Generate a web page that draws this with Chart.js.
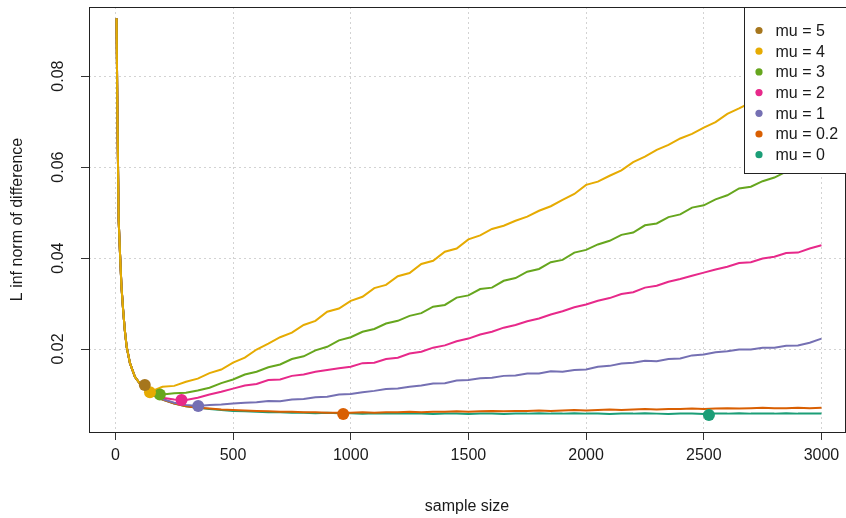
<!DOCTYPE html>
<html>
<head>
<meta charset="utf-8">
<script src="https://cdn.jsdelivr.net/npm/chart.js@4"></script>
<style>
  html, body { margin: 0; padding: 0; background: #fff; }
  #wrap { width: 846px; height: 518px; }
</style>
</head>
<body>
<div id="wrap"><canvas id="errChart" width="846" height="518"></canvas></div>
<script>
// tick positions
const xTicks = [0, 500, 1000, 1500, 2000, 2500, 3000];
const yTicks = [0.02, 0.04, 0.06, 0.08];

// legend order (top to bottom)
const muLabels = ['mu = 5', 'mu = 4', 'mu = 3', 'mu = 2', 'mu = 1', 'mu = 0.2', 'mu = 0'];
const muColors = ['#A6761D', '#E6AB02', '#66A61E', '#E7298A', '#7570B3', '#D95F02', '#1B9E77'];

// steep start, shared by all curves
const earlyN = [5, 9, 14, 20, 26, 33, 40, 48, 62, 83, 104, 118];
const earlyErr = [0.0927, 0.0703, 0.0484, 0.0407, 0.0337, 0.0286, 0.0242, 0.0205, 0.0169, 0.0139, 0.0124, 0.0118];

// rest of the sample sizes
const lateN = [150, 200, 250, 300, 350, 400, 450, 500,
  550, 600, 650, 700, 750, 800, 850, 900, 950, 1000,
  1050, 1100, 1150, 1200, 1250, 1300, 1350, 1400, 1450, 1500,
  1550, 1600, 1650, 1700, 1750, 1800, 1850, 1900, 1950, 2000,
  2050, 2100, 2150, 2200, 2250, 2300, 2350, 2400, 2450, 2500,
  2550, 2600, 2650, 2700, 2750, 2800, 2850, 2900, 2950, 3000];

const errMu5 = [0.0121];
const errMu5N = [125];
const errMu4 = [0.0106, 0.0117, 0.0119, 0.0128, 0.0135, 0.0147, 0.0155, 0.0170,
  0.0181, 0.0199, 0.0212, 0.0226, 0.0236, 0.0253, 0.0262, 0.0282, 0.0289, 0.0306,
  0.0315, 0.0334, 0.0341, 0.0360, 0.0367, 0.0387, 0.0394, 0.0414, 0.0421, 0.0441,
  0.0450, 0.0464, 0.0471, 0.0482, 0.0491, 0.0504, 0.0514, 0.0528, 0.0541, 0.0561,
  0.0568, 0.0581, 0.0593, 0.0611, 0.0623, 0.0638, 0.0649, 0.0663, 0.0673, 0.0687,
  0.0699, 0.0717, 0.0729, 0.0742, 0.0751, 0.0766, 0.0777, 0.0791, 0.0801, 0.0814];
const errMu3 = [0.0103, 0.0100, 0.0103, 0.0104, 0.0109, 0.0115, 0.0125, 0.0133,
  0.0144, 0.0150, 0.0160, 0.0166, 0.0178, 0.0184, 0.0197, 0.0205, 0.0219, 0.0226,
  0.0238, 0.0244, 0.0256, 0.0262, 0.0273, 0.0279, 0.0293, 0.0297, 0.0313, 0.0318,
  0.0332, 0.0335, 0.0350, 0.0356, 0.0370, 0.0376, 0.0391, 0.0396, 0.0412, 0.0418,
  0.0430, 0.0438, 0.0451, 0.0456, 0.0472, 0.0476, 0.0490, 0.0496, 0.0511, 0.0516,
  0.0529, 0.0538, 0.0553, 0.0557, 0.0569, 0.0577, 0.0590, 0.0592, 0.0605, 0.0611];
const errMu2 = [0.0103, 0.0093, 0.0089, 0.0088, 0.0093, 0.0100, 0.0106, 0.0113,
  0.0120, 0.0123, 0.0132, 0.0133, 0.0141, 0.0144, 0.0150, 0.0154, 0.0158, 0.0161,
  0.0169, 0.0170, 0.0178, 0.0181, 0.0190, 0.0194, 0.0203, 0.0208, 0.0217, 0.0223,
  0.0232, 0.0238, 0.0247, 0.0253, 0.0261, 0.0267, 0.0276, 0.0283, 0.0292, 0.0298,
  0.0306, 0.0312, 0.0321, 0.0325, 0.0335, 0.0339, 0.0348, 0.0354, 0.0361, 0.0368,
  0.0375, 0.0381, 0.0389, 0.0391, 0.0399, 0.0403, 0.0411, 0.0412, 0.0421, 0.0428];
const errMu1 = [0.0103, 0.0090, 0.0082, 0.0077, 0.0075, 0.0077, 0.0078, 0.0080,
  0.0082, 0.0083, 0.0086, 0.0085, 0.0089, 0.0090, 0.0094, 0.0095, 0.0100, 0.0101,
  0.0105, 0.0108, 0.0112, 0.0113, 0.0117, 0.0120, 0.0124, 0.0125, 0.0131, 0.0132,
  0.0136, 0.0137, 0.0141, 0.0142, 0.0146, 0.0146, 0.0151, 0.0150, 0.0154, 0.0155,
  0.0161, 0.0163, 0.0168, 0.0170, 0.0174, 0.0173, 0.0178, 0.0179, 0.0186, 0.0188,
  0.0193, 0.0195, 0.0199, 0.0199, 0.0203, 0.0203, 0.0207, 0.0208, 0.0214, 0.0223];
const errMu02 = [0.0103, 0.0089, 0.0080, 0.0074, 0.0071, 0.0069, 0.0067, 0.0066,
  0.0065, 0.0064, 0.0063, 0.0062, 0.0062, 0.0061, 0.0061, 0.0060, 0.0060, 0.0060,
  0.0061, 0.0060, 0.0061, 0.0061, 0.0062, 0.0061, 0.0062, 0.0062, 0.0063, 0.0062,
  0.0063, 0.0064, 0.0063, 0.0064, 0.0064, 0.0065, 0.0064, 0.0065, 0.0066, 0.0065,
  0.0066, 0.0067, 0.0066, 0.0067, 0.0068, 0.0067, 0.0068, 0.0068, 0.0069, 0.0068,
  0.0069, 0.0070, 0.0069, 0.0070, 0.0071, 0.0070, 0.0070, 0.0071, 0.0070, 0.0071];
const errMu0 = [0.0103, 0.0089, 0.0080, 0.0074, 0.0071, 0.0068, 0.0066, 0.0064,
  0.0063, 0.0062, 0.0061, 0.0061, 0.0060, 0.0060, 0.0059, 0.0060, 0.0059, 0.0059,
  0.0058, 0.0059, 0.0058, 0.0058, 0.0059, 0.0058, 0.0057, 0.0058, 0.0058, 0.0057,
  0.0058, 0.0058, 0.0057, 0.0058, 0.0058, 0.0059, 0.0058, 0.0058, 0.0059, 0.0058,
  0.0058, 0.0057, 0.0058, 0.0058, 0.0059, 0.0058, 0.0057, 0.0058, 0.0058, 0.0057,
  0.0058, 0.0058, 0.0059, 0.0058, 0.0058, 0.0058, 0.0059, 0.0058, 0.0058, 0.0058];

// marked minimum of each curve (same order as muLabels)
const minN = [125, 147, 189, 281, 352, 968, 2522];
const minErr = [0.0121, 0.0105, 0.0100, 0.0088, 0.0075, 0.0057, 0.0055];

function pts(xs, ys) {
  return xs.map((x, i) => ({ x: x, y: ys[i] }));
}

const curves = [
  pts(earlyN.concat(errMu5N), earlyErr.concat(errMu5)),
  pts(earlyN.concat(lateN), earlyErr.concat(errMu4)),
  pts(earlyN.concat(lateN), earlyErr.concat(errMu3)),
  pts(earlyN.concat(lateN), earlyErr.concat(errMu2)),
  pts(earlyN.concat(lateN), earlyErr.concat(errMu1)),
  pts(earlyN.concat(lateN), earlyErr.concat(errMu02)),
  pts(earlyN.concat(lateN), earlyErr.concat(errMu0))
];

// dots first (drawn on top), then lines; mu=4 on top, mu=5 at the bottom
const datasets = [];
muLabels.forEach((lab, i) => {
  datasets.push({
    label: lab + ' min',
    data: [{ x: minN[i], y: minErr[i] }],
    showLine: false,
    pointRadius: 6,
    pointBorderWidth: 0,
    pointBackgroundColor: muColors[i],
    borderColor: muColors[i]
  });
});
const lineOrder = [1, 2, 3, 4, 5, 6, 0];
lineOrder.forEach(i => {
  datasets.push({
    label: muLabels[i],
    data: curves[i],
    borderColor: muColors[i],
    borderWidth: 2,
    pointRadius: 0,
    fill: false,
    tension: 0
  });
});

const FONT = 'Liberation Sans, Arial, sans-serif';

const frameAndLegend = {
  id: 'frameAndLegend',
  afterDraw(chart) {
    const ctx = chart.ctx;
    const a = chart.chartArea;
    ctx.save();
    // plot box
    ctx.strokeStyle = '#222';
    ctx.lineWidth = 1;
    ctx.strokeRect(Math.round(a.left) + 0.5, Math.round(a.top) + 0.5,
      Math.round(a.right - a.left), Math.round(a.bottom - a.top));

    // legend box in the top right corner
    const bx = 744.5, by = Math.round(a.top) + 0.5, bw = 120, bh = 166;
    ctx.fillStyle = '#fff';
    ctx.fillRect(bx, by, bw, bh);
    ctx.strokeRect(bx, by, bw, bh);
    ctx.font = '16px ' + FONT;
    ctx.textBaseline = 'middle';
    ctx.textAlign = 'left';
    muLabels.forEach((lab, i) => {
      const yy = by + 23 + i * 20.7;
      ctx.fillStyle = muColors[i];
      ctx.beginPath();
      ctx.arc(bx + 14.5, yy, 3.6, 0, Math.PI * 2);
      ctx.fill();
      ctx.fillStyle = '#1a1a1a';
      ctx.fillText(lab, bx + 31, yy + 1);
    });
    ctx.restore();
  }
};

new Chart(document.getElementById('errChart').getContext('2d'), {
  type: 'line',
  data: { datasets: datasets },
  options: {
    responsive: false,
    animation: false,
    devicePixelRatio: 1,
    layout: { autoPadding: false, padding: { top: 7, right: 1, left: 0, bottom: 0 } },
    plugins: {
      legend: { display: false },
      tooltip: { enabled: false }
    },
    scales: {
      x: {
        type: 'linear',
        min: -112,
        max: 3100,
        afterBuildTicks: s => { s.ticks = xTicks.map(v => ({ value: v })); },
        afterFit: s => { s.height = 86; s.paddingLeft = 0; s.paddingRight = 0; },
        grid: {
          color: '#d3d3d3',
          lineWidth: 1,
          tickLength: 8,
          tickColor: '#333',
          tickBorderDash: []
        },
        border: { display: false, dash: [2, 3] },
        ticks: {
          color: '#1a1a1a',
          font: { family: FONT, size: 16 },
          padding: 6,
          maxRotation: 0,
          callback: v => String(v)
        },
        title: {
          display: true,
          text: 'sample size',
          color: '#1a1a1a',
          font: { family: FONT, size: 16 },
          padding: { top: 0, bottom: 2 }
        }
      },
      y: {
        type: 'linear',
        min: 0.00176,
        max: 0.0952,
        afterBuildTicks: s => { s.ticks = yTicks.map(v => ({ value: v })); },
        afterFit: s => { s.width = 89; s.paddingTop = 0; s.paddingBottom = 0; },
        grid: {
          color: '#d3d3d3',
          lineWidth: 1,
          tickLength: 8,
          tickColor: '#333',
          tickBorderDash: []
        },
        border: { display: false, dash: [2, 3] },
        ticks: {
          color: '#1a1a1a',
          font: { family: FONT, size: 16 },
          padding: 7,
          minRotation: 90,
          maxRotation: 90,
          crossAlign: 'center',
          callback: v => v.toFixed(2)
        },
        title: {
          display: true,
          text: 'L inf norm of difference',
          color: '#1a1a1a',
          font: { family: FONT, size: 16 },
          padding: { top: 8, bottom: 0 }
        }
      }
    }
  },
  plugins: [frameAndLegend]
});
</script>
</body>
</html>
